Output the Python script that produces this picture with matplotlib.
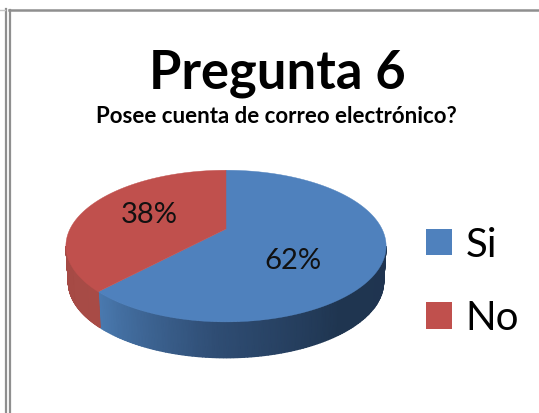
import numpy as np
import matplotlib
matplotlib.use("Agg")
import matplotlib.pyplot as plt
from matplotlib.colors import LinearSegmentedColormap
from matplotlib.patches import Patch

title = "Pregunta 6"
subtitle = "Posee cuenta de correo electrónico?"
labels = ["Si", "No"]
values = [62, 38]
colors = ["#4F81BD", "#C0504D"]
label_pos = [(293, 261), (149.5, 215)]

plt.rcParams["font.family"] = ["Lato", "DejaVu Sans"]

# tilted pie, the circle goes through a perspective map so the front gets bigger
CX, CY = 226, 230
SX, SY, PERSP = 156, 72, 0.225
DEPTH = 36


def project(theta, r=1.0):
    d = 1 + PERSP * r * np.sin(theta)
    return CX + SX * r * np.cos(theta) / d, CY - SY * r * np.sin(theta) / d


fig = plt.figure(figsize=(5.39, 4.14), dpi=100)
ax = fig.add_axes([0, 0, 1, 1])
ax.set_xlim(0, 539)
ax.set_ylim(414, 0)
ax.axis("off")

# window frame around the pasted chart
frame = "#8f8f8f"
ax.plot([6, 6], [10, 414], color=frame, lw=1.6)
ax.plot([9.5, 9.5], [11, 414], color=frame, lw=1.6)
ax.plot([9, 539], [11, 11], color=frame, lw=1.8)
ax.plot([0, 5], [10.5, 10.5], color="#c4c4c4", lw=1)

bounds = np.radians(90 - np.cumsum([0] + values) * 3.6)
edge = np.arcsin(-PERSP)
wall_ranges = [(bounds[1], edge), (-np.pi - edge, bounds[1])]
wall_maps = [
    LinearSegmentedColormap.from_list("b", ["#4A7AB0", "#2F4D74", "#1F3550", "#1F3450"]),
    LinearSegmentedColormap.from_list("r", ["#A54A45", "#A84B46"]),
]

for (t0, t1), cmap in zip(wall_ranges, wall_maps):
    t = np.linspace(t0, t1, 120)
    x, y = project(t)
    xb = CX + (x - CX) * 0.985
    X = np.vstack([x, xb])
    Y = np.vstack([y, y + DEPTH])
    C = np.vstack([np.linspace(0, 1, 120)] * 2)
    ax.pcolormesh(X, Y, C, cmap=cmap, shading="gouraud", rasterized=True)

for i, color in enumerate(colors):
    t = np.linspace(bounds[i], bounds[i + 1], 200)
    x, y = project(t)
    ax.fill(np.r_[CX, x], np.r_[CY, y], color=color, lw=0.3)
    ax.text(*label_pos[i], f"{values[i]}%", fontsize=21, ha="center", va="center", color="#111111")

ax.text(277, 73, title, fontsize=37.8, fontweight="bold", ha="center", va="center", color="black")
ax.text(276.5, 117, subtitle, fontsize=16, fontweight="bold", ha="center", va="center", color="black")

handles = [Patch(facecolor=c, edgecolor="none") for c in colors]
ax.legend(handles, labels, loc="upper left", bbox_to_anchor=(390 / 539, 1 - 191 / 414), frameon=False,
          fontsize=29, handlelength=0.64, handleheight=0.64, handletextpad=0.33, labelspacing=0.9)

fig.savefig("out.png", dpi=100)
